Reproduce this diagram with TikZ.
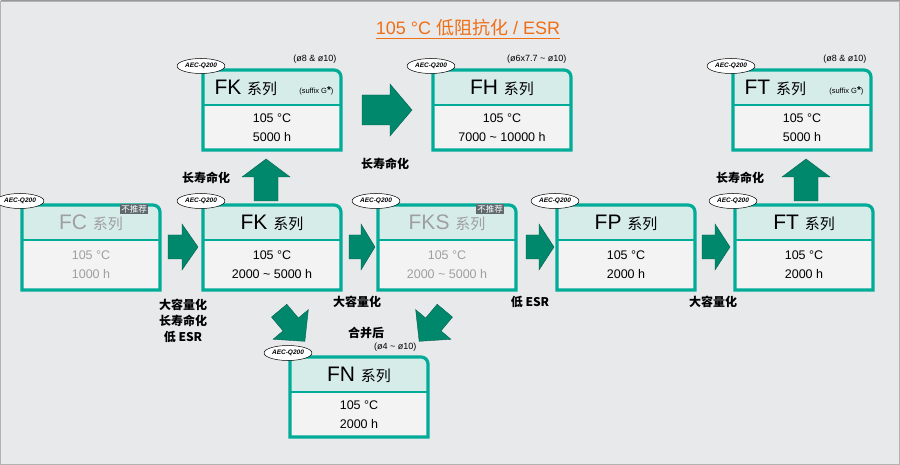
\documentclass[tikz,border=0pt]{standalone}
\usepackage{fontspec}
\setmainfont{Liberation Sans}
\newfontfamily\cjk{Noto Sans CJK SC}
\usetikzlibrary{shapes.geometric,positioning}
\definecolor{bgcol}{RGB}{232,233,235}
\definecolor{boxteal}{RGB}{0,172,152}
\definecolor{headfill}{RGB}{214,236,233}
\definecolor{bodyfill}{RGB}{243,243,243}
\definecolor{arrowgreen}{RGB}{0,136,108}
\definecolor{titleorange}{RGB}{240,110,20}
\definecolor{tagcol}{RGB}{95,105,110}
\tikzset{
  blockarrow/.style={draw=arrowgreen!70!black, fill=arrowgreen, line width=0.4pt},
  aec/.style={ellipse, draw=black, fill=white, line width=0.5pt, inner sep=1pt,
    minimum width=44pt, minimum height=15pt, font=\fontsize{6.5}{7}\selectfont\bfseries\itshape},
  headtext/.style={font=\fontsize{21}{22}\selectfont},
  bodytext/.style={font=\fontsize{12.5}{19}\selectfont, align=center},
  sizetext/.style={font=\fontsize{9}{10}\selectfont, anchor=east},
  note/.style={font=\fontsize{12}{16}\selectfont\cjk\bfseries, align=center},
  tag/.style={fill=tagcol, text=white, inner sep=1.5pt, font=\fontsize{8.5}{9}\selectfont\cjk}
}
% box: name, left x, top y, height, header, body, text colour
\newcommand{\seriesbox}[7]{%
  \fill[bodyfill] (#2,#3) rectangle ++(138,#4);
  \fill[headfill] (#2,#3) rectangle ++(138,35);
  \draw[boxteal, line width=1.6pt] (#2,#3+35) -- ++(138,0);
  \draw[boxteal, line width=3.2pt] (#2,#3+#4) -- (#2,#3) [rounded corners=7pt]-- (#2+138,#3)
    [sharp corners]-- (#2+138,#3+#4) -- cycle;
  \node[headtext, text=#7] (#1-head) at (#2+69,#3+18) {#5};
  \node[bodytext, text=#7] (#1-body) at (#2+69,#3+35+0.5*#4-17.5) {#6};
  \node[aec] (#1-aec) at (#2-2,#3-4) {AEC-Q200};
}
% block arrow: name, centre, angle, length, shaft width, head width, head length
\newcommand{\blockarr}[7]{%
  \coordinate (#1) at (#2);
  \begin{scope}[shift={(#1)}, rotate=#3]
    \filldraw[blockarrow] (-#4/2,-#5/2) -- (#4/2-#7,-#5/2) -- (#4/2-#7,-#6/2) -- (#4/2,0)
      -- (#4/2-#7,#6/2) -- (#4/2-#7,#5/2) -- (-#4/2,#5/2) -- cycle;
  \end{scope}
}
\newcommand{\suf}{(suffix G{\fontsize{10}{10}\selectfont\bfseries *})}
\begin{document}
\begin{tikzpicture}[x=1pt,y=-1pt]
  % background
  \fill[bgcol] (0,0) rectangle (900,465);
  \draw[gray!80, line width=1pt] (0.5,1) -- (899.5,1);
  \draw[gray!60, line width=0.6pt] (0.5,1) rectangle (899.5,464.5);
  \useasboundingbox (0,0) rectangle (900,465);
  % title
  \node[text=titleorange, font=\fontsize{18}{20}\selectfont] (title) at (468,29)
    {\underline{105 °C {\cjk 低阻抗化} / ESR}};
  % boxes
  \seriesbox{fc}{22}{205}{85}{FC {\cjk\fontsize{15}{16}\selectfont 系列}}{105 °C\\1000 h}{gray!75}
  \seriesbox{fk}{203}{205}{85}{FK {\cjk\fontsize{15}{16}\selectfont 系列}}{105 °C\\2000 \textasciitilde{} 5000 h}{black}
  \seriesbox{fks}{378}{205}{85}{FKS {\cjk\fontsize{15}{16}\selectfont 系列}}{105 °C\\2000 \textasciitilde{} 5000 h}{gray!75}
  \seriesbox{fp}{557}{205}{85}{FP {\cjk\fontsize{15}{16}\selectfont 系列}}{105 °C\\2000 h}{black}
  \seriesbox{ftm}{735}{205}{85}{FT {\cjk\fontsize{15}{16}\selectfont 系列}}{105 °C\\2000 h}{black}
  \seriesbox{fkt}{203}{70}{80}{}{105 °C\\5000 h}{black}
  \seriesbox{fh}{433}{70}{80}{FH {\cjk\fontsize{15}{16}\selectfont 系列}}{105 °C\\7000 \textasciitilde{} 10000 h}{black}
  \seriesbox{ftt}{733}{70}{80}{}{105 °C\\5000 h}{black}
  \seriesbox{fn}{290}{357}{80}{FN {\cjk\fontsize{15}{16}\selectfont 系列}}{105 °C\\2000 h}{black}
  % headers with suffix
  \node[headtext, anchor=west] (fkt-name) at (211,88) {FK {\cjk\fontsize{15}{16}\selectfont 系列}};
  \node[font=\fontsize{7.5}{8}\selectfont, anchor=east] (fkt-suffix) at (337,91) {\suf};
  \node[headtext, anchor=west] (ftt-name) at (741,88) {FT {\cjk\fontsize{15}{16}\selectfont 系列}};
  \node[font=\fontsize{7.5}{8}\selectfont, anchor=east] (ftt-suffix) at (867,91) {\suf};
  % sizes
  \node[sizetext] (fkt-size) at (340,59) {(ø8 \& ø10)};
  \node[sizetext] (fh-size) at (570,59) {(ø6x7.7 \textasciitilde{} ø10)};
  \node[sizetext] (ftt-size) at (870,59) {(ø8 \& ø10)};
  \node[sizetext] (fn-size) at (420,347) {(ø4 \textasciitilde{} ø10)};
  % not recommended tags
  \node[tag] (fc-tag) at (134,209) {不推荐};
  \node[tag] (fks-tag) at (490,209) {不推荐};
  % arrows
  \blockarr{a1}{183,247}{0}{30}{24}{46}{16}
  \blockarr{a2}{362,247}{0}{26}{24}{46}{14}
  \blockarr{a3}{540,247}{0}{28}{24}{46}{15}
  \blockarr{a4}{716,247}{0}{28}{24}{46}{15}
  \blockarr{a5}{387,110}{0}{50}{30}{52}{22}
  \blockarr{a6}{266,180}{90}{42}{24}{48}{18}
  \blockarr{a7}{806,180}{90}{42}{24}{48}{18}
  \blockarr{a8}{292,326}{-50}{40}{20}{46}{22}
  \blockarr{a9}{432,326}{-130}{40}{20}{46}{22}
  % labels
  \node[note] (l1) at (206,178) {长寿命化};
  \node[note] (l2) at (385,164) {长寿命化};
  \node[note] (l3) at (183,321) {大容量化\\长寿命化\\低 ESR};
  \node[note] (l4) at (357,302) {大容量化};
  \node[note] (l5) at (366,333) {合并后};
  \node[note] (l6) at (530,302) {低 ESR};
  \node[note] (l7) at (713,302) {大容量化};
  \node[note] (l8) at (740,178) {长寿命化};
\end{tikzpicture}
\end{document}
